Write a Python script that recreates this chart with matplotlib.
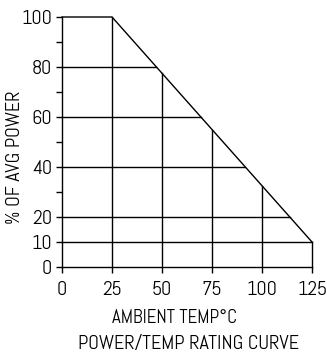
import matplotlib
matplotlib.use("Agg")
import matplotlib.pyplot as plt

# derating curve: full power up to 25 C, then linear down to 10% at 125 C
curve_temp = [0, 25, 125]
curve_power = [100, 100, 10]

x_ticks = [0, 25, 50, 75, 100, 125]
y_ticks = [0, 10, 20, 40, 60, 80, 100]
y_minor = [30, 50, 70, 90]

grid_temps = [25, 50, 75, 100, 125]
grid_powers = [10, 20, 40, 60, 80]

# narrow face like the CAD lettering, with fallbacks
plt.rcParams['font.family'] = ['Abel', 'Roboto', 'DejaVu Sans']

W, H = 327, 354
fig = plt.figure(figsize=(W / 100, H / 100), dpi=100)
ax = fig.add_axes([62 / W, (H - 267) / H, 250 / W, 250 / H])
ax.set_xlim(0, 125)
ax.set_ylim(0, 100)


def power_at(t):
    if t <= 25:
        return 100.0
    return 100 - (t - 25) * 90 / 100


def temp_at(p):
    return 25 + (100 - p) * 100 / 90


lw = 1.0
# derating line
ax.plot(curve_temp, curve_power, color='black', lw=lw, clip_on=False)

# vertical grid lines up to the curve
for t in grid_temps:
    ax.plot([t, t], [0, power_at(t)], color='black', lw=lw, clip_on=False)

# horizontal grid lines up to the curve
for p in grid_powers:
    ax.plot([0, temp_at(p)], [p, p], color='black', lw=lw, clip_on=False)

for s in ['top', 'right']:
    ax.spines[s].set_visible(False)
ax.spines['left'].set_linewidth(lw)
ax.spines['bottom'].set_linewidth(lw)

ax.set_xticks(x_ticks)
ax.set_yticks(y_ticks)
ax.set_yticks(y_minor, minor=True)
ax.tick_params(axis='both', which='both', direction='out', length=4, width=lw,
               labelsize=14.5)
ax.tick_params(axis='y', pad=3)
ax.tick_params(axis='x', pad=6)

fig.text(174 / W, 1 - 318 / H, 'AMBIENT TEMP°C', ha='center', va='center', fontsize=13.6)
fig.text(188 / W, 1 - 344 / H, 'POWER/TEMP RATING CURVE', ha='center', va='center', fontsize=14.5)
fig.text(15 / W, 1 - 157 / H, '% OF AVG POWER', ha='center', va='center',
         rotation=90, fontsize=14.5)

fig.savefig('out.png', dpi=100)
